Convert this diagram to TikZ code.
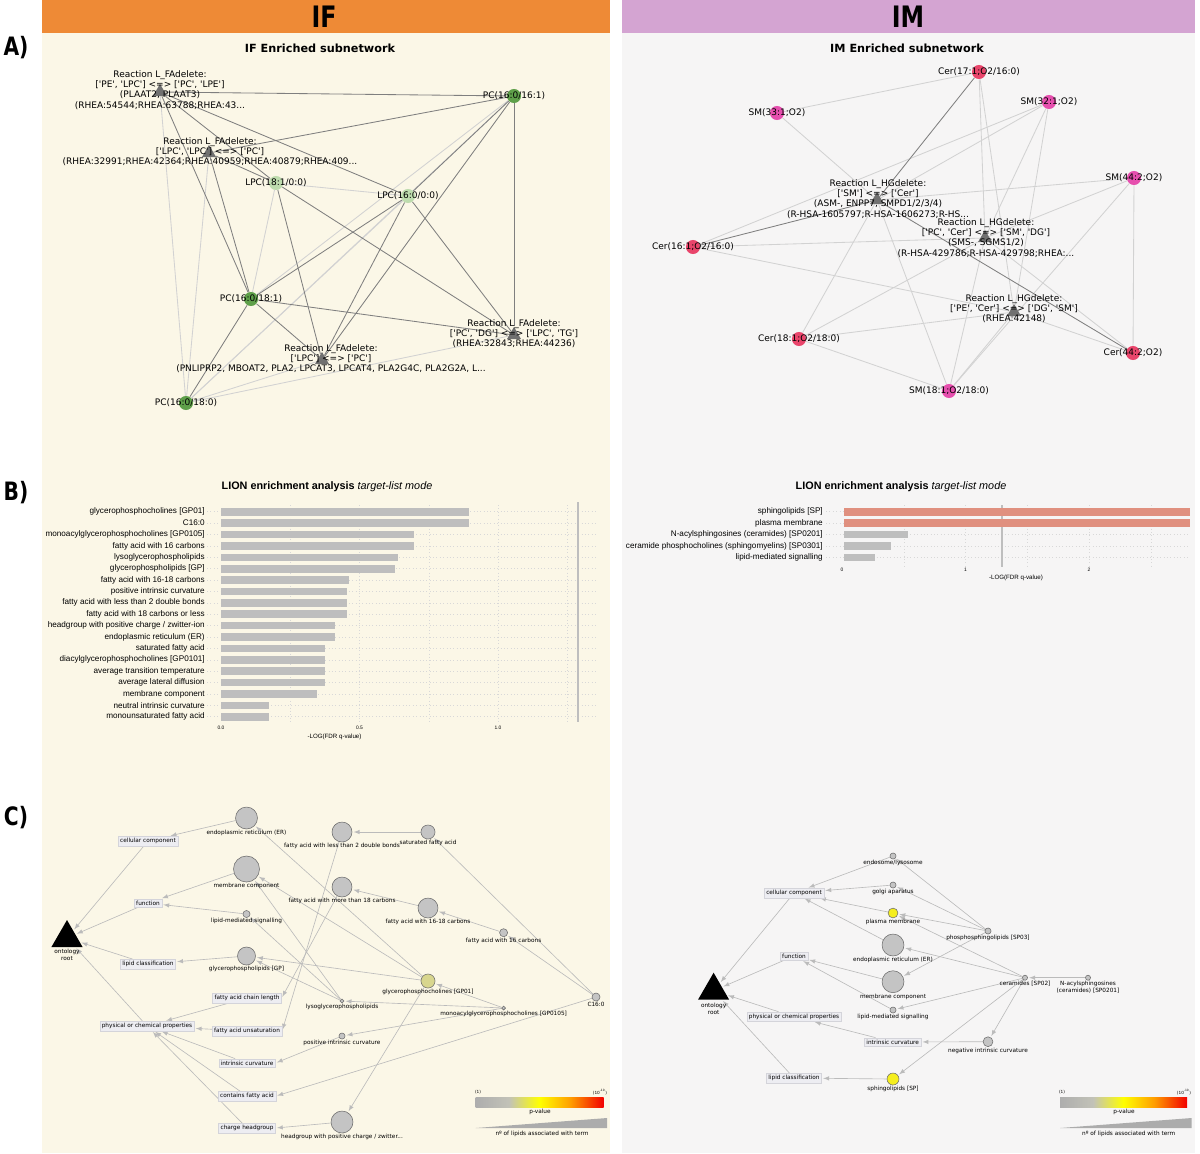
\documentclass[tikz,border=0pt]{standalone}
\usepackage{fontspec}
\setmainfont{DejaVu Sans}
\newfontfamily\barfont{Liberation Sans}
\newfontfamily\headfont[FakeStretch=0.8]{DejaVu Sans}
\usetikzlibrary{shapes.geometric}

\definecolor{ifhead}{HTML}{EE8A36}
\definecolor{imhead}{HTML}{D4A4D2}
\definecolor{ifbg}{HTML}{FBF7E7}
\definecolor{imbg}{HTML}{F6F5F5}
\definecolor{dkgreen}{HTML}{5FA04A}
\definecolor{ltgreen}{HTML}{BEDCAE}
\definecolor{cerred}{HTML}{E9456B}
\definecolor{smpink}{HTML}{E64FAE}
\definecolor{rxngrey}{HTML}{707070}
\definecolor{edgedk}{HTML}{7F7F7F}
\definecolor{edgelt}{HTML}{D2D2D2}
\definecolor{bargrey}{HTML}{BEBEBE}
\definecolor{barred}{HTML}{E0907F}
\definecolor{gridc}{HTML}{D8D8D8}
\definecolor{arrgrey}{HTML}{BBBBBB}
\definecolor{boxfill}{HTML}{EDEDF2}
\definecolor{boxdraw}{HTML}{D4D4DA}
\definecolor{circfill}{HTML}{C4C4C4}
\definecolor{circdraw}{HTML}{6E6E6E}
\definecolor{gpyellow}{HTML}{D8D68E}
\definecolor{hotyellow}{HTML}{F5EE1E}

\pgfdeclarelayer{bg}
\pgfdeclarelayer{edges}
\pgfsetlayers{bg,edges,main}

\pgfdeclarehorizontalshading{pval}{100bp}{rgb(0bp)=(0.68,0.68,0.68); rgb(25bp)=(0.68,0.68,0.68); rgb(38bp)=(0.76,0.76,0.72); rgb(50bp)=(1,1,0); rgb(62bp)=(1,0.62,0); rgb(75bp)=(0.95,0,0); rgb(100bp)=(0.95,0,0)}

\newcommand{\q}{\textquotesingle}

\tikzset{
  head/.style={font=\headfont\bfseries\fontsize{21}{24}\selectfont,inner sep=0pt},
  plab/.style={font=\headfont\bfseries\fontsize{18}{20}\selectfont,inner sep=0pt},
  ntitle/.style={font=\bfseries\fontsize{8}{9.5}\selectfont,inner sep=0pt},
  lip/.style={circle,minimum size=10pt,inner sep=0pt},
  rxn/.style={regular polygon,regular polygon sides=3,fill=rxngrey,minimum size=11.5pt,inner sep=0pt},
  nlab/.style={align=center,font=\fontsize{6.4}{7.2}\selectfont,inner sep=0pt},
  edk/.style={edgedk,line width=0.6pt},
  elt/.style={edgelt,line width=0.6pt},
  btitle/.style={font=\barfont\fontsize{7.7}{9}\selectfont,inner sep=0pt},
  blab/.style={anchor=east,font=\barfont\fontsize{5.8}{6.5}\selectfont,inner sep=0pt},
  tick/.style={font=\barfont\fontsize{3.5}{4}\selectfont,inner sep=0pt},
  gridln/.style={gridc,dotted,line width=0.4pt},
  thr/.style={bargrey,line width=0.8pt},
  root/.style={regular polygon,regular polygon sides=3,fill=black,minimum size=25.6pt,inner sep=0pt},
  clab/.style={font=\fontsize{4.1}{4.8}\selectfont,inner sep=0.3pt},
  cat/.style={draw=boxdraw,fill=boxfill,line width=0.3pt,font=\fontsize{4.1}{4.8}\selectfont,inner sep=1.4pt},
  term/.style={circle,fill=circfill,draw=circdraw,line width=0.4pt,inner sep=0pt,label distance=0pt},
  isa/.style={->,>=latex,draw=arrgrey,line width=0.45pt,shorten >=1pt},
  wedge/.style={fill=gray!65}
}

\begin{document}
\begin{tikzpicture}[x=0.025cm,y=-0.025cm]
\useasboundingbox (0,0) rectangle (1200,1153);
\begin{pgfonlayer}{bg}
\fill[ifbg] (42,33) rectangle (610,1153);
\fill[imbg] (622,33) rectangle (1195,1153);
\end{pgfonlayer}
\fill[ifhead] (42,0) rectangle (610,33);
\fill[imhead] (622,0) rectangle (1195,33);
\node[head] (hif) at (324,17) {IF};
\node[head] (him) at (908,17) {IM};
\node[plab] (pa) at (16,48) {A)};
\node[plab] (pb) at (16,493) {B)};
\node[plab] (pc) at (16,818) {C)};

% A) IF network
\node[ntitle] (tA) at (320,48) {IF Enriched subnetwork};
\node[lip,fill=dkgreen] (pcA) at (514,96) {};
\node[lip,fill=ltgreen] (lpcA) at (276,183) {};
\node[lip,fill=ltgreen] (lpcB) at (408,196) {};
\node[lip,fill=dkgreen] (pcB) at (251,299) {};
\node[lip,fill=dkgreen] (pcC) at (186,403) {};
\node[rxn] (rA1) at (160,92) {};
\node[rxn] (rA2) at (209,153) {};
\node[rxn] (rA3) at (514,335) {};
\node[rxn] (rA4) at (322,360) {};
\node[nlab] (pcAt) at (pcA) {PC(16:0/16:1)};
\node[nlab] (lpcAt) at (lpcA) {LPC(18:1/0:0)};
\node[nlab] (lpcBt) at (lpcB) {LPC(16:0/0:0)};
\node[nlab] (pcBt) at (pcB) {PC(16:0/18:1)};
\node[nlab] (pcCt) at (pcC) {PC(16:0/18:0)};
\node[nlab] (rA1t) at (160,90) {Reaction L\_FAdelete:\\{}[\q PE\q, \q LPC\q] <=> [\q PC\q, \q LPE\q]\\(PLAAT2, PLAAT3)\\(RHEA:54544;RHEA:63788;RHEA:43...};
\node[nlab] (rA2t) at (210,152) {Reaction L\_FAdelete:\\{}[\q LPC\q, \q LPC\q] <=> [\q PC\q]\\(RHEA:32991;RHEA:42364;RHEA:40959;RHEA:40879;RHEA:409...};
\node[nlab] (rA3t) at (514,334) {Reaction L\_FAdelete:\\{}[\q PC\q, \q DG\q] <=> [\q LPC\q, \q TG\q]\\(RHEA:32843;RHEA:44236)};
\node[nlab] (rA4t) at (331,359) {Reaction L\_FAdelete:\\{}[\q LPC\q] <=> [\q PC\q]\\(PNLIPRP2, MBOAT2, PLA2, LPCAT3, LPCAT4, PLA2G4C, PLA2G2A, L...};
\begin{pgfonlayer}{edges}
\draw[elt] (rA1) -- (pcC);
\draw[elt] (rA2) -- (pcC);
\draw[elt] (pcA) -- (pcB);
\draw[elt] (pcA) -- (pcC);
\draw[elt] (lpcA) -- (lpcB);
\draw[elt] (lpcA) -- (pcB);
\draw[elt] (lpcB) -- (pcC);
\draw[elt] (pcC) -- (rA4);
\draw[elt] (pcC) -- (rA3);
\draw[edk] (rA1) -- (pcA);
\draw[edk] (rA1) -- (lpcB);
\draw[edk] (rA1) -- (lpcA);
\draw[edk] (rA1) -- (pcB);
\draw[edk] (rA2) -- (pcA);
\draw[edk] (rA2) -- (lpcA);
\draw[edk] (rA2) -- (pcB);
\draw[edk] (pcA) -- (rA3);
\draw[edk] (pcA) -- (rA4);
\draw[edk] (pcA) -- (lpcB);
\draw[edk] (lpcB) -- (pcB);
\draw[edk] (lpcB) -- (rA4);
\draw[edk] (lpcB) -- (rA3);
\draw[edk] (lpcA) -- (rA4);
\draw[edk] (lpcA) -- (rA3);
\draw[edk] (pcB) -- (rA3);
\draw[edk] (pcB) -- (rA4);
\draw[edk] (pcB) -- (pcC);
\end{pgfonlayer}

% A) IM network
\node[ntitle] (tB) at (907,48) {IM Enriched subnetwork};
\node[lip,fill=cerred] (cerA) at (979,72) {};
\node[lip,fill=smpink] (smA) at (1049,102) {};
\node[lip,fill=smpink] (smB) at (777,113) {};
\node[lip,fill=smpink] (smC) at (1134,178) {};
\node[lip,fill=cerred] (cerB) at (693,247) {};
\node[lip,fill=cerred] (cerC) at (799,339) {};
\node[lip,fill=cerred] (cerD) at (1133,353) {};
\node[lip,fill=smpink] (smD) at (949,391) {};
\node[rxn] (rB1) at (877,200) {};
\node[rxn] (rB2) at (985,238) {};
\node[rxn] (rB3) at (1014,312) {};
\node[nlab] (cerAt) at (cerA) {Cer(17:1;O2/16:0)};
\node[nlab] (smAt) at (smA) {SM(32:1;O2)};
\node[nlab] (smBt) at (smB) {SM(33:1;O2)};
\node[nlab] (smCt) at (smC) {SM(44:2;O2)};
\node[nlab] (cerBt) at (cerB) {Cer(16:1;O2/16:0)};
\node[nlab] (cerCt) at (cerC) {Cer(18:1;O2/18:0)};
\node[nlab] (cerDt) at (cerD) {Cer(44:2;O2)};
\node[nlab] (smDt) at (smD) {SM(18:1;O2/18:0)};
\node[nlab] (rB1t) at (878,199) {Reaction L\_HGdelete:\\{}[\q SM\q] <=> [\q Cer\q]\\(ASM-, ENPP7, SMPD1/2/3/4)\\(R-HSA-1605797;R-HSA-1606273;R-HS...};
\node[nlab] (rB2t) at (986,238) {Reaction L\_HGdelete:\\{}[\q PC\q, \q Cer\q] <=> [\q SM\q, \q DG\q]\\(SMS-, SGMS1/2)\\(R-HSA-429786;R-HSA-429798;RHEA:...};
\node[nlab] (rB3t) at (1014,309) {Reaction L\_HGdelete:\\{}[\q PE\q, \q Cer\q] <=> [\q DG\q, \q SM\q]\\(RHEA:42148)};
\begin{pgfonlayer}{edges}
\draw[elt] (cerA) -- (smB);
\draw[elt] (cerA) -- (rB2);
\draw[elt] (cerA) -- (rB3);
\draw[elt] (smA) -- (cerB);
\draw[elt] (smA) -- (rB1);
\draw[elt] (smA) -- (rB2);
\draw[elt] (smA) -- (rB3);
\draw[elt] (smB) -- (rB1);
\draw[elt] (smC) -- (rB1);
\draw[elt] (smC) -- (cerD);
\draw[elt] (smC) -- (rB2);
\draw[elt] (smC) -- (smD);
\draw[elt] (cerB) -- (rB2);
\draw[elt] (cerB) -- (rB3);
\draw[elt] (rB1) -- (cerC);
\draw[elt] (rB1) -- (smD);
\draw[elt] (rB2) -- (cerC);
\draw[elt] (rB2) -- (smD);
\draw[elt] (rB2) -- (cerD);
\draw[elt] (rB3) -- (cerC);
\draw[elt] (rB3) -- (smD);
\draw[elt] (rB3) -- (cerD);
\draw[elt] (cerC) -- (smD);
\draw[edk] (cerA) -- (rB1);
\draw[edk] (cerB) -- (rB1);
\draw[edk] (rB1) -- (cerD);
\end{pgfonlayer}

% B) IF bars
\node[btitle] (tC) at (327,487) {\textbf{LION enrichment analysis} \textit{target-list mode}};
\draw[gridln] (207,511.7) -- (596,511.7) (207,523.1) -- (596,523.1) (207,534.5) -- (596,534.5)
  (207,545.9) -- (596,545.9) (207,557.3) -- (596,557.3) (207,568.7) -- (596,568.7)
  (207,580.0) -- (596,580.0) (207,591.4) -- (596,591.4) (207,602.8) -- (596,602.8)
  (207,614.2) -- (596,614.2) (207,625.6) -- (596,625.6) (207,637.0) -- (596,637.0)
  (207,648.4) -- (596,648.4) (207,659.8) -- (596,659.8) (207,671.2) -- (596,671.2)
  (207,682.6) -- (596,682.6) (207,694.0) -- (596,694.0) (207,705.4) -- (596,705.4)
  (207,716.7) -- (596,716.7);
\draw[gridln] (290.3,505) -- (290.3,722) (359.5,505) -- (359.5,722) (428.8,505) -- (428.8,722)
  (498,505) -- (498,722) (567.3,505) -- (567.3,722);
\draw[thr] (578,502) -- (578,722);
\fill[bargrey] (221,507.9) rectangle (469,515.5);
\fill[bargrey] (221,519.3) rectangle (469,526.9);
\fill[bargrey] (221,530.7) rectangle (414,538.3);
\fill[bargrey] (221,542.1) rectangle (414,549.7);
\fill[bargrey] (221,553.5) rectangle (398,561.1);
\fill[bargrey] (221,564.9) rectangle (395,572.5);
\fill[bargrey] (221,576.2) rectangle (349,583.8);
\fill[bargrey] (221,587.6) rectangle (347,595.2);
\fill[bargrey] (221,599.0) rectangle (347,606.6);
\fill[bargrey] (221,610.4) rectangle (347,618.0);
\fill[bargrey] (221,621.8) rectangle (335,629.4);
\fill[bargrey] (221,633.2) rectangle (335,640.8);
\fill[bargrey] (221,644.6) rectangle (325,652.2);
\fill[bargrey] (221,656.0) rectangle (325,663.6);
\fill[bargrey] (221,667.4) rectangle (325,675.0);
\fill[bargrey] (221,678.8) rectangle (325,686.4);
\fill[bargrey] (221,690.2) rectangle (317,697.8);
\fill[bargrey] (221,701.6) rectangle (269,709.2);
\fill[bargrey] (221,712.9) rectangle (269,720.5);
\node[blab] (bA1) at (205,511.7) {glycerophosphocholines [GP01]};
\node[blab] (bA2) at (205,523.1) {C16:0};
\node[blab] (bA3) at (205,534.5) {monoacylglycerophosphocholines [GP0105]};
\node[blab] (bA4) at (205,545.9) {fatty acid with 16 carbons};
\node[blab] (bA5) at (205,557.3) {lysoglycerophospholipids};
\node[blab] (bA6) at (205,568.7) {glycerophospholipids [GP]};
\node[blab] (bA7) at (205,580.0) {fatty acid with 16-18 carbons};
\node[blab] (bA8) at (205,591.4) {positive intrinsic curvature};
\node[blab] (bA9) at (205,602.8) {fatty acid with less than 2 double bonds};
\node[blab] (bA10) at (205,614.2) {fatty acid with 18 carbons or less};
\node[blab] (bA11) at (205,625.6) {headgroup with positive charge / zwitter-ion};
\node[blab] (bA12) at (205,637.0) {endoplasmic reticulum (ER)};
\node[blab] (bA13) at (205,648.4) {saturated fatty acid};
\node[blab] (bA14) at (205,659.8) {diacylglycerophosphocholines [GP0101]};
\node[blab] (bA15) at (205,671.2) {average transition temperature};
\node[blab] (bA16) at (205,682.6) {average lateral diffusion};
\node[blab] (bA17) at (205,694.0) {membrane component};
\node[blab] (bA18) at (205,705.4) {neutral intrinsic curvature};
\node[blab] (bA19) at (205,716.7) {monounsaturated fatty acid};
\node[tick] (xA0) at (221,728) {0.0};
\node[tick] (xA1) at (359.5,728) {0.5};
\node[tick] (xA2) at (498,728) {1.0};
\node[tick,font=\barfont\fontsize{4.4}{5}\selectfont] (xAl) at (334.5,737) {-LOG(FDR q-value)};

% B) IM bars
\node[btitle] (tD) at (901,487) {\textbf{LION enrichment analysis} \textit{target-list mode}};
\draw[gridln] (826,511.7) -- (1190,511.7) (826,523.1) -- (1190,523.1) (826,534.5) -- (1190,534.5)
  (826,545.9) -- (1190,545.9) (826,557.3) -- (1190,557.3);
\draw[gridln] (903.8,505) -- (903.8,567) (965.5,505) -- (965.5,567) (1027.3,505) -- (1027.3,567)
  (1089,505) -- (1089,567) (1150.8,505) -- (1150.8,567);
\draw[thr] (1002,505) -- (1002,567);
\fill[barred] (844,507.9) rectangle (1190,515.5);
\fill[barred] (844,519.3) rectangle (1190,526.9);
\fill[bargrey] (844,530.7) rectangle (908,538.3);
\fill[bargrey] (844,542.1) rectangle (891,549.7);
\fill[bargrey] (844,553.5) rectangle (875,561.1);
\node[blab] (bB1) at (823,511.7) {sphingolipids [SP]};
\node[blab] (bB2) at (823,523.1) {plasma membrane};
\node[blab] (bB3) at (823,534.5) {N-acylsphingosines (ceramides) [SP0201]};
\node[blab] (bB4) at (823,545.9) {ceramide phosphocholines (sphingomyelins) [SP0301]};
\node[blab] (bB5) at (823,557.3) {lipid-mediated signalling};
\node[tick] (xB0) at (842,570) {0};
\node[tick] (xB1) at (965.5,570) {1};
\node[tick] (xB2) at (1089,570) {2};
\node[tick,font=\barfont\fontsize{4.4}{5}\selectfont] (xBl) at (1016,578) {-LOG(FDR q-value)};

% C) IF ontology
\node[root] (rootA) at (67,938) {};
\node[clab,align=center] (rootAt) at (67,955) {ontology\\root};
\node[cat] (ccA) at (148,841) {cellular component};
\node[cat] (fnA) at (148,903) {function};
\node[cat] (lcA) at (148,964) {lipid classification};
\node[cat] (pcpA) at (147,1026) {physical or chemical properties};
\node[cat] (fclA) at (247,998) {fatty acid chain length};
\node[cat] (fauA) at (247,1031) {fatty acid unsaturation};
\node[cat] (icuA) at (247,1063) {intrinsic curvature};
\node[cat] (cfaA) at (247,1096) {contains fatty acid};
\node[cat] (chhA) at (247,1128) {charge headgroup};
\node[term,minimum size=15.6pt,label={[clab]below:endoplasmic reticulum (ER)}] (erA) at (246.5,818) {};
\node[term,minimum size=18.5pt,label={[clab]below:membrane component}] (mcA) at (246.5,869) {};
\node[term,minimum size=5pt,label={[clab]below:lipid-mediated signalling}] (lmsA) at (246.5,914) {};
\node[term,minimum size=12.8pt,label={[clab]below:glycerophospholipids [GP]}] (gpA) at (246.5,956) {};
\node[term,minimum size=14.2pt,label={[clab]below:fatty acid with less than 2 double bonds}] (fa2A) at (342,832) {};
\node[term,minimum size=10pt,label={[clab]below:saturated fatty acid}] (sfaA) at (428,832) {};
\node[term,minimum size=14.2pt,label={[clab]below:fatty acid with more than 18 carbons}] (fa18A) at (342,887) {};
\node[term,minimum size=14.2pt,label={[clab]below:fatty acid with 16-18 carbons}] (fa1618A) at (428,908) {};
\node[term,minimum size=5.7pt,label={[clab]below:fatty acid with 16 carbons}] (fa16A) at (503.6,932.7) {};
\node[term,fill=gpyellow,minimum size=10pt,label={[clab]below:glycerophosphocholines [GP01]}] (gp01A) at (428,981) {};
\node[term,minimum size=2.8pt,label={[clab]below:lysoglycerophospholipids}] (lysoA) at (342,1001) {};
\node[term,minimum size=2.8pt,label={[clab]below:monoacylglycerophosphocholines [GP0105]}] (mgpA) at (503.6,1008) {};
\node[term,minimum size=5.7pt,label={[clab]below:C16:0}] (c16A) at (596,997) {};
\node[term,minimum size=4.3pt,label={[clab]below:positive intrinsic curvature}] (picA) at (342,1036) {};
\node[term,minimum size=15.6pt,label={[clab]below:headgroup with positive charge / zwitter...}] (hpcA) at (342,1122) {};
\begin{pgfonlayer}{edges}
\draw[isa] (ccA) -- (rootA);
\draw[isa] (fnA) -- (rootA);
\draw[isa] (lcA) -- (rootA);
\draw[isa] (pcpA) -- (rootA);
\draw[isa] (erA) -- (ccA);
\draw[isa] (mcA) -- (fnA);
\draw[isa] (lmsA) -- (fnA);
\draw[isa] (gpA) -- (lcA);
\draw[isa] (sfaA) -- (fa2A);
\draw[isa] (fa1618A) -- (fa18A);
\draw[isa] (fa16A) -- (fa1618A);
\draw[isa] (fclA) -- (pcpA);
\draw[isa] (fauA) -- (pcpA);
\draw[isa] (icuA) -- (pcpA);
\draw[isa] (cfaA) -- (pcpA);
\draw[isa] (chhA) -- (pcpA);
\draw[isa] (fa2A) -- (fauA.east);
\draw[isa] (fa18A) -- (fclA.east);
\draw[isa] (picA) -- (icuA.east);
\draw[isa] (hpcA) -- (chhA.east);
\draw[isa] (gp01A) -- (gpA);
\draw[isa] (gp01A) -- (erA);
\draw[isa] (gp01A) -- (mcA);
\draw[isa] (gp01A) -- (hpcA);
\draw[isa] (lysoA) -- (gpA);
\draw[isa] (lysoA) -- (mcA);
\draw[isa] (lysoA) -- (lmsA);
\draw[isa] (mgpA) -- (lysoA);
\draw[isa] (mgpA) -- (gp01A);
\draw[isa] (mgpA) -- (picA);
\draw[isa] (c16A) -- (sfaA);
\draw[isa] (c16A) -- (fa16A);
\draw[isa] (c16A) -- (cfaA.east);
\end{pgfonlayer}
\shade[shading=pval] (475.6,1097) rectangle (603.6,1107);
\node[tick,font=\fontsize{3}{3.5}\selectfont] (lgA1) at (478,1092) {(1)};
\node[tick,font=\fontsize{3}{3.5}\selectfont] (lgA2) at (600,1092) {(10\textsuperscript{-10})};
\node[clab] (lgA3) at (540,1112) {p-value};
\fill[wedge] (475.6,1128) -- (607,1118) -- (607,1128) -- cycle;
\node[clab] (lgA4) at (542,1134) {nº of lipids associated with term};

% C) IM ontology
\node[root] (rootB) at (713.6,990.7) {};
\node[clab,align=center] (rootBt) at (713.6,1008.5) {ontology\\root};
\node[cat] (ccB) at (794,893) {cellular component};
\node[cat] (fnB) at (794,956) {function};
\node[cat] (pcpB) at (794,1016.7) {physical or chemical properties};
\node[cat] (icuB) at (892.7,1042) {intrinsic curvature};
\node[cat] (lcB) at (794,1078) {lipid classification};
\node[term,minimum size=4.3pt,label={[clab]below:endosome/lysosome}] (enoB) at (893,856) {};
\node[term,minimum size=4.3pt,label={[clab]below:golgi aparatus}] (golB) at (893,885) {};
\node[term,fill=hotyellow,minimum size=7pt,label={[clab]below:plasma membrane}] (pmB) at (893,913) {};
\node[term,minimum size=4.3pt,label={[clab]below:phosphosphingolipids [SP03]}] (sp03B) at (988,931) {};
\node[term,minimum size=15.6pt,label={[clab]below:endoplasmic reticulum (ER)}] (erB) at (893,945) {};
\node[term,minimum size=15.6pt,label={[clab]below:membrane component}] (mcB) at (893,981.7) {};
\node[term,minimum size=3.6pt,label={[clab]below:ceramides [SP02]}] (cerE) at (1025,977.7) {};
\node[term,minimum size=3.6pt,label={[clab,align=center]below:N-acylsphingosines\\(ceramides) [SP0201]}] (nacB) at (1088,977.7) {};
\node[term,minimum size=4.3pt,label={[clab]below:lipid-mediated signalling}] (lmsB) at (893,1010) {};
\node[term,minimum size=7pt,label={[clab]below:negative intrinsic curvature}] (nicB) at (988,1041.7) {};
\node[term,fill=hotyellow,minimum size=8.5pt,label={[clab]below:sphingolipids [SP]}] (spB) at (893,1079) {};
\begin{pgfonlayer}{edges}
\draw[isa] (ccB) -- (rootB);
\draw[isa] (fnB) -- (rootB);
\draw[isa] (pcpB) -- (rootB);
\draw[isa] (lcB) -- (rootB);
\draw[isa] (enoB) -- (ccB);
\draw[isa] (golB) -- (ccB);
\draw[isa] (pmB) -- (ccB);
\draw[isa] (erB) -- (ccB);
\draw[isa] (mcB) -- (fnB);
\draw[isa] (lmsB) -- (fnB);
\draw[isa] (icuB) -- (pcpB);
\draw[isa] (nicB) -- (icuB);
\draw[isa] (spB) -- (lcB);
\draw[isa] (sp03B) -- (enoB);
\draw[isa] (sp03B) -- (golB);
\draw[isa] (sp03B) -- (pmB);
\draw[isa] (sp03B) -- (mcB);
\draw[isa] (cerE) -- (pmB);
\draw[isa] (cerE) -- (erB);
\draw[isa] (cerE) -- (lmsB);
\draw[isa] (cerE) -- (spB);
\draw[isa] (cerE) -- (nicB);
\draw[isa] (nacB) -- (cerE);
\end{pgfonlayer}
\shade[shading=pval] (1060,1097) rectangle (1187,1107);
\node[tick,font=\fontsize{3}{3.5}\selectfont] (lgB1) at (1062,1092) {(1)};
\node[tick,font=\fontsize{3}{3.5}\selectfont] (lgB2) at (1184,1092) {(10\textsuperscript{-10})};
\node[clab] (lgB3) at (1124,1112) {p-value};
\fill[wedge] (1060,1128) -- (1191.6,1118) -- (1191.6,1128) -- cycle;
\node[clab] (lgB4) at (1128.7,1134) {nº of lipids associated with term};
\end{tikzpicture}
\end{document}
